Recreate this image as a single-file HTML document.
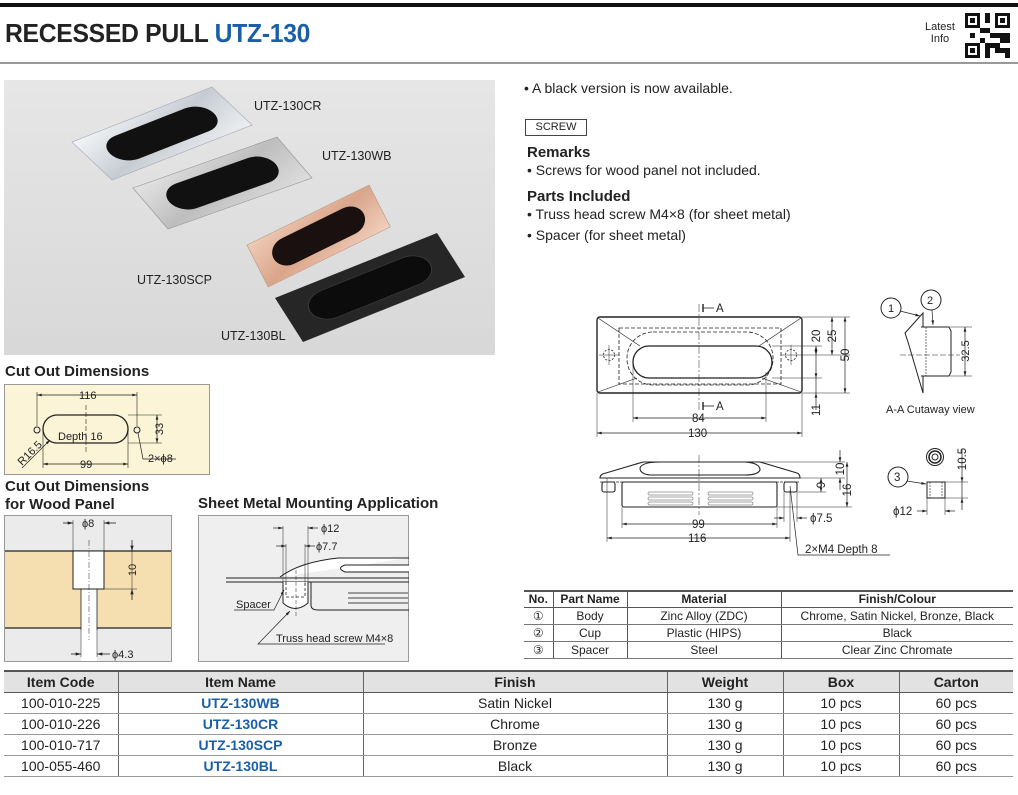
<!DOCTYPE html>
<html><head><meta charset="utf-8"><style>
*{margin:0;padding:0;box-sizing:border-box}
body{width:1018px;height:795px;background:#fff;position:relative;font-family:"Liberation Sans",Arial,sans-serif;color:#222;overflow:hidden}
.a{position:absolute;white-space:nowrap}
.h{font-weight:bold;font-size:15px;color:#222}
table{border-collapse:collapse;position:absolute;font-size:13px}
td,th{text-align:center;padding:0;}
#pt{left:524px;top:590px;width:489px;font-size:12px;border-top:2px solid #555;border-bottom:1.5px solid #555}
#pt th{height:16px;border-bottom:1px solid #555;font-weight:bold}
#pt td{height:17px;border-bottom:1px solid #777}
#pt td,#pt th{border-left:1px solid #555}
#pt tr>*:first-child{border-left:none}
#mt{left:4px;top:670px;width:1009px;font-size:14px;border-top:2px solid #555;border-bottom:1.5px solid #777}
#mt th{height:21px;background:#e2e2e2;border-bottom:1.5px solid #555;font-weight:bold}
#mt td{height:21px;border-bottom:1px solid #999}
#mt td,#mt th{border-left:1px solid #666}
#mt tr>*:first-child{border-left:none}
.b{color:#1a5fa8;font-weight:bold}
</style></head><body>
<div class="a" style="left:0;top:3px;width:1018px;height:4px;background:#111"></div>
<div class="a" style="left:5px;top:18px;font-size:26px;font-weight:bold;letter-spacing:-0.3px;transform:scaleX(0.95);transform-origin:left">RECESSED PULL <span style="color:#1a5fa8">UTZ-130</span></div>
<div class="a" style="left:0;top:62px;width:1018px;height:2px;background:#999"></div>
<div class="a" style="left:925px;top:21px;font-size:11px;text-align:center;line-height:12px">Latest<br>Info</div>
<svg class="a" style="left:965px;top:13px" width="45" height="45" viewBox="0 0 9 9" shape-rendering="crispEdges">
<g fill="#111"><rect x="0" y="0" width="3" height="3"/><rect x="6" y="0" width="3" height="3"/><rect x="0" y="6" width="3" height="3"/>
<rect x="4" y="0" width="1" height="2"/><rect x="3" y="3" width="2" height="1"/><rect x="5" y="4" width="2" height="1"/><rect x="7" y="4" width="2" height="2"/><rect x="4" y="6" width="1" height="3"/><rect x="6" y="7" width="3" height="1"/><rect x="1" y="4" width="1" height="1"/><rect x="5" y="6" width="2" height="1"/><rect x="8" y="8" width="1" height="1"/><rect x="3" y="5" width="1" height="1"/><rect x="6" y="2" width="1" height="1"/></g>
<g fill="#fff"><rect x="0.6" y="0.6" width="1.8" height="1.8"/><rect x="6.6" y="0.6" width="1.8" height="1.8"/><rect x="0.6" y="6.6" width="1.8" height="1.8"/></g>
<g fill="#111"><rect x="1" y="1" width="1" height="1"/><rect x="7" y="1" width="1" height="1"/><rect x="1" y="7" width="1" height="1"/></g></svg>

<svg class="a" style="left:0;top:0" width="1018" height="795">
<defs>
<linearGradient id="bg" x1="0" y1="0" x2="0" y2="1"><stop offset="0" stop-color="#e6e6e6"/><stop offset="1" stop-color="#d8d8d8"/></linearGradient>
<linearGradient id="cr" x1="0" y1="0" x2="1" y2="1"><stop offset="0" stop-color="#f4f6f8"/><stop offset="0.5" stop-color="#c6ccd2"/><stop offset="1" stop-color="#eef0f2"/></linearGradient>
<linearGradient id="wb" x1="0" y1="0" x2="1" y2="1"><stop offset="0" stop-color="#e4e4e4"/><stop offset="0.5" stop-color="#bdbdbd"/><stop offset="1" stop-color="#dedede"/></linearGradient>
<linearGradient id="scp" x1="0" y1="0" x2="1" y2="1"><stop offset="0" stop-color="#f0cbb6"/><stop offset="0.5" stop-color="#d9a58a"/><stop offset="1" stop-color="#f2d0bd"/></linearGradient>
<marker id="ar" viewBox="0 0 10 6" refX="10" refY="3" markerWidth="7" markerHeight="4" orient="auto-start-reverse"><path d="M0,0L10,3L0,6z" fill="#222"/></marker>
</defs>
<rect x="4" y="80" width="491" height="275" fill="url(#bg)"/>
<g transform="matrix(1.4,-0.55,1.0,0.95,72,142)"><rect width="100" height="40" fill="url(#cr)" stroke="#aab" stroke-width="0.5"/><rect x="13" y="8" width="74" height="24" rx="12" fill="#111"/></g>
<g transform="matrix(1.44,-0.51,0.875,1.025,133,188)"><rect width="100" height="40" fill="url(#wb)" stroke="#999" stroke-width="0.5"/><rect x="13" y="8" width="74" height="24" rx="12" fill="#111"/></g>
<g transform="matrix(1.22,-0.6,0.53,1.05,247,245)"><rect width="100" height="40" fill="url(#scp)" stroke="#b98" stroke-width="0.5"/><rect x="13" y="8" width="74" height="24" rx="12" fill="#1a1010"/></g>
<g transform="matrix(1.62,-0.65,0.7,1.1,275,298)"><rect width="100" height="40" fill="#262626"/><rect x="13" y="8" width="74" height="24" rx="12" fill="#0c0c0c" stroke="#3a3a3a" stroke-width="0.6"/></g>
<g font-size="12.5" fill="#222"><text x="254" y="110">UTZ-130CR</text><text x="322" y="160">UTZ-130WB</text><text x="137" y="284">UTZ-130SCP</text><text x="221" y="340">UTZ-130BL</text></g>

<rect x="4.5" y="384.5" width="205" height="90" fill="#fbf4d6" stroke="#999"/>
<g stroke="#222" fill="none" stroke-width="1">
<rect x="43" y="415" width="85" height="28" rx="14" stroke-width="1.3"/>
<circle cx="37" cy="430" r="3"/><circle cx="137" cy="430" r="3"/>
<line x1="86" y1="405" x2="86" y2="452" stroke-dasharray="5,2" stroke-width="0.6"/>
<line x1="37" y1="392" x2="37" y2="426" stroke-width="0.6"/><line x1="137" y1="392" x2="137" y2="426" stroke-width="0.6"/>
<line x1="37" y1="395" x2="137" y2="395" marker-start="url(#ar)" marker-end="url(#ar)" stroke-width="0.7"/>
<line x1="43" y1="430" x2="43" y2="468" stroke-width="0.6"/><line x1="128" y1="430" x2="128" y2="468" stroke-width="0.6"/>
<line x1="43" y1="464" x2="128" y2="464" marker-start="url(#ar)" marker-end="url(#ar)" stroke-width="0.7"/>
<line x1="128" y1="415" x2="162" y2="415" stroke-width="0.6"/><line x1="128" y1="443" x2="162" y2="443" stroke-width="0.6"/>
<line x1="157" y1="415" x2="157" y2="443" marker-start="url(#ar)" marker-end="url(#ar)" stroke-width="0.7"/>
<polyline points="138,433 143,459 176,459" stroke-width="0.7"/>
<line x1="22" y1="468" x2="50" y2="440" stroke-width="0.7" marker-end="url(#ar)"/>
</g>
<g font-size="11" fill="#222"><text x="79" y="399">116</text><text x="80" y="468">99</text><text x="58" y="440">Depth 16</text><text x="148" y="462">2×ϕ8</text>
<text transform="translate(163,429) rotate(-90)" text-anchor="middle">33</text><text transform="translate(22,466) rotate(-45)">R16.5</text></g>

<rect x="4.5" y="515.5" width="167" height="146" fill="#ebebeb" stroke="#999"/>
<rect x="5" y="551" width="166" height="77" fill="#f5deb0"/>
<line x1="5" y1="551" x2="171" y2="551" stroke="#222" stroke-width="1.2"/><line x1="5" y1="628" x2="171" y2="628" stroke="#222" stroke-width="1.2"/>
<rect x="81" y="589" width="16" height="72" fill="#fff"/>
<rect x="73" y="551" width="31" height="38" fill="#fff" stroke="#222"/>
<g stroke="#222" fill="none" stroke-width="0.8"><line x1="81" y1="589" x2="81" y2="630"/><line x1="97" y1="589" x2="97" y2="630"/>
<line x1="81" y1="630" x2="81" y2="657" stroke-width="0.5"/><line x1="97" y1="630" x2="97" y2="657" stroke-width="0.5"/>
<line x1="73" y1="520" x2="73" y2="551" stroke-width="0.5"/><line x1="104" y1="520" x2="104" y2="551" stroke-width="0.5"/>
<line x1="89" y1="540" x2="89" y2="640" stroke-dasharray="6,2,1,2" stroke-width="0.5"/>
<line x1="63" y1="523" x2="73" y2="523" marker-end="url(#ar)"/><line x1="116" y1="523" x2="104" y2="523" marker-end="url(#ar)"/>
<line x1="71" y1="654" x2="81" y2="654" marker-end="url(#ar)"/><line x1="110" y1="654" x2="97" y2="654" marker-end="url(#ar)"/>
<line x1="104" y1="589" x2="137" y2="589" stroke-width="0.5"/>
<line x1="132" y1="540" x2="132" y2="551" marker-end="url(#ar)"/><line x1="132" y1="600" x2="132" y2="589" marker-end="url(#ar)"/><line x1="132" y1="551" x2="132" y2="589" stroke-width="0.5"/>
</g>
<g font-size="11" fill="#222"><text x="82" y="527">ϕ8</text><text x="112" y="658">ϕ4.3</text><text transform="translate(136,570) rotate(-90)" text-anchor="middle">10</text></g>

<rect x="198.5" y="515.5" width="210" height="146" fill="#efefef" stroke="#999"/>
<g stroke="#222" fill="none" stroke-width="1">
<line x1="226" y1="578" x2="409" y2="578"/><line x1="226" y1="582" x2="409" y2="582"/>
<path d="M280,577 Q300,562 338,558 L409,558" fill="#fff"/>
<path d="M409,565 L345,565 Q336,568 345,572 L409,572" fill="#fff"/>
<path d="M311,582 L311,605 Q311,610 318,610 L409,610"/>
<line x1="348" y1="593" x2="409" y2="593" stroke="#999" stroke-width="2"/><line x1="348" y1="598" x2="409" y2="598" stroke="#999" stroke-width="2"/><line x1="348" y1="603" x2="409" y2="603" stroke="#999" stroke-width="2"/>
<path d="M283,582 L283,603 Q295,614 308,603 L308,582" fill="#fff"/>
<path d="M286,582 L286,597 L305,597 L305,582" stroke-dasharray="3,2" stroke-width="0.8"/>
<g stroke-width="0.5"><line x1="283" y1="526" x2="283" y2="585"/><line x1="308" y1="526" x2="308" y2="585"/><line x1="286" y1="544" x2="286" y2="585"/><line x1="305" y1="544" x2="305" y2="585"/><line x1="296" y1="570" x2="296" y2="618" stroke-dasharray="4,2"/></g>
<line x1="273" y1="528" x2="283" y2="528" marker-end="url(#ar)" stroke-width="0.7"/><line x1="318" y1="528" x2="308" y2="528" marker-end="url(#ar)" stroke-width="0.7"/>
<line x1="276" y1="546" x2="286" y2="546" marker-end="url(#ar)" stroke-width="0.7"/><line x1="315" y1="546" x2="305" y2="546" marker-end="url(#ar)" stroke-width="0.7"/>
<polyline points="234,610 274,610 284,590" stroke-width="0.7" marker-end="url(#ar)"/>
<polyline points="385,644 258,644 290,611" stroke-width="0.7" marker-end="url(#ar)"/>
</g>
<g font-size="11" fill="#222"><text x="321" y="532">ϕ12</text><text x="316" y="550">ϕ7.7</text><text x="236" y="608">Spacer</text><text x="276" y="642">Truss head screw M4×8</text></g>

<g stroke="#222" fill="none" stroke-width="1">
<rect x="597" y="317" width="205" height="76" rx="3" stroke-width="1.4"/>
<rect x="619" y="328" width="162" height="56" stroke-dasharray="4,2" stroke-width="0.8"/>
<rect x="627" y="332" width="146" height="53" rx="26" stroke-dasharray="4,2" stroke-width="0.8"/>
<rect x="633" y="346" width="139" height="32" rx="16" stroke-width="1.3"/>
<g stroke-width="0.6"><line x1="598" y1="318" x2="640" y2="346"/><line x1="801" y1="318" x2="759" y2="346"/><line x1="598" y1="392" x2="637" y2="378"/><line x1="801" y1="392" x2="762" y2="378"/></g>
<circle cx="609" cy="355" r="5.5" stroke-dasharray="2,1.5" stroke-width="0.8"/><circle cx="791" cy="355" r="5.5" stroke-dasharray="2,1.5" stroke-width="0.8"/>
<g stroke-width="0.5"><line x1="609" y1="345" x2="609" y2="365"/><line x1="599" y1="355" x2="619" y2="355"/><line x1="791" y1="345" x2="791" y2="365"/><line x1="781" y1="355" x2="850" y2="355"/>
<line x1="699" y1="304" x2="699" y2="410" stroke-dasharray="8,2,2,2"/>
<line x1="633" y1="362" x2="633" y2="422"/><line x1="766" y1="372" x2="766" y2="422"/><line x1="597" y1="393" x2="597" y2="437"/><line x1="802" y1="393" x2="802" y2="437"/>
<line x1="772" y1="346" x2="822" y2="346"/><line x1="772" y1="378" x2="822" y2="378"/><line x1="802" y1="317" x2="850" y2="317"/><line x1="802" y1="393" x2="850" y2="393"/></g>
<line x1="703" y1="308" x2="714" y2="308" stroke-width="0.8"/><line x1="703" y1="304" x2="703" y2="312" stroke-width="1.4"/>
<line x1="703" y1="406" x2="714" y2="406" stroke-width="0.8"/><line x1="703" y1="402" x2="703" y2="410" stroke-width="1.4"/>
<g stroke-width="0.7"><line x1="633" y1="418" x2="766" y2="418" marker-start="url(#ar)" marker-end="url(#ar)"/>
<line x1="597" y1="433" x2="802" y2="433" marker-start="url(#ar)" marker-end="url(#ar)"/>
<line x1="816" y1="346" x2="816" y2="355" marker-start="url(#ar)" marker-end="url(#ar)"/>
<line x1="832" y1="317" x2="832" y2="355" marker-start="url(#ar)" marker-end="url(#ar)"/>
<line x1="845" y1="317" x2="845" y2="393" marker-start="url(#ar)" marker-end="url(#ar)"/>
<line x1="816" y1="355" x2="816" y2="378" marker-end="url(#ar)"/><line x1="816" y1="410" x2="816" y2="393" marker-end="url(#ar)"/><line x1="816" y1="378" x2="816" y2="393"/></g>
</g>
<g font-size="11.5" fill="#222"><text x="716" y="312">A</text><text x="716" y="410">A</text><text x="692" y="422">84</text><text x="688" y="437">130</text>
<text transform="translate(820,336) rotate(-90)" text-anchor="middle">20</text><text transform="translate(836,336) rotate(-90)" text-anchor="middle">25</text><text transform="translate(849,355) rotate(-90)" text-anchor="middle">50</text><text transform="translate(820,410) rotate(-90)" text-anchor="middle">11</text></g>

<g stroke="#222" fill="none" stroke-width="1">
<circle cx="891" cy="308" r="10"/><circle cx="931" cy="300" r="10"/>
<line x1="900" y1="311" x2="920" y2="316" stroke-width="0.7" marker-end="url(#ar)"/><line x1="932" y1="310" x2="933" y2="325" stroke-width="0.7" marker-end="url(#ar)"/>
<path d="M923,313 L905,333 L908,342 L923,393 L923,313 Z" fill="#fff"/>
<path d="M921,327 L949,327 L951,331 L951,372 L949,376 L921,376" fill="#fff"/>
<line x1="926" y1="327" x2="926" y2="376" stroke-dasharray="2,1" stroke-width="0.6"/>
<line x1="900" y1="355" x2="960" y2="355" stroke-dasharray="6,2" stroke-width="0.5"/>
<line x1="950" y1="327" x2="972" y2="327" stroke-width="0.5"/><line x1="950" y1="376" x2="972" y2="376" stroke-width="0.5"/>
<line x1="965" y1="327" x2="965" y2="376" marker-start="url(#ar)" marker-end="url(#ar)" stroke-width="0.7"/>
</g>
<g font-size="11" fill="#222"><text x="888" y="312">1</text><text x="927" y="304">2</text><text transform="translate(969,351) rotate(-90)" text-anchor="middle">32.5</text><text x="886" y="413">A-A Cutaway view</text></g>

<g stroke="#222" fill="none" stroke-width="1.1">
<path d="M600,478 Q600,474 606,473 L643,462 L760,462 L797,473 Q800,474 800,478 Z" fill="#fff"/>
<path d="M640,468 Q642,462 660,462 L745,462 Q760,463 760,470 Q758,475 745,475 L650,475 Q640,474 640,468 Z"/>
<rect x="622" y="482" width="155" height="25" rx="2"/>
<line x1="600" y1="482" x2="800" y2="482" stroke-width="0.8" stroke-dasharray="3,1"/>
<rect x="602" y="482" width="13" height="10" rx="2"/><rect x="784" y="482" width="13" height="10" rx="2"/>
<g stroke="#888" stroke-width="0.7"><rect x="648" y="492" width="45" height="3" rx="1.5"/><rect x="648" y="497" width="45" height="3" rx="1.5"/><rect x="648" y="502" width="45" height="3" rx="1.5"/><rect x="708" y="492" width="45" height="3" rx="1.5"/><rect x="708" y="497" width="45" height="3" rx="1.5"/><rect x="708" y="502" width="45" height="3" rx="1.5"/></g>
<g stroke-width="0.5"><line x1="699" y1="455" x2="699" y2="515" stroke-dasharray="8,2,2,2"/>
<line x1="607" y1="478" x2="607" y2="542"/><line x1="790" y1="490" x2="790" y2="542"/><line x1="622" y1="507" x2="622" y2="528"/><line x1="777" y1="507" x2="777" y2="528"/>
<line x1="784" y1="492" x2="784" y2="522"/><line x1="797" y1="492" x2="797" y2="522"/>
<line x1="760" y1="462" x2="845" y2="462"/><line x1="800" y1="478" x2="845" y2="478"/><line x1="797" y1="492" x2="826" y2="492"/><line x1="777" y1="507" x2="852" y2="507"/></g>
<g stroke-width="0.7"><line x1="622" y1="524" x2="777" y2="524" marker-start="url(#ar)" marker-end="url(#ar)"/>
<line x1="607" y1="538" x2="790" y2="538" marker-start="url(#ar)" marker-end="url(#ar)"/>
<line x1="774" y1="518" x2="784" y2="518" marker-end="url(#ar)"/><line x1="807" y1="518" x2="797" y2="518" marker-end="url(#ar)"/>
<line x1="840" y1="450" x2="840" y2="462" marker-end="url(#ar)"/><line x1="840" y1="490" x2="840" y2="478" marker-end="url(#ar)"/>
<line x1="821" y1="478" x2="821" y2="492" marker-start="url(#ar)" marker-end="url(#ar)"/>
<line x1="847" y1="462" x2="847" y2="507" marker-start="url(#ar)" marker-end="url(#ar)"/>
<polyline points="790,486 798,555 890,555"/></g>
</g>
<g font-size="11.5" fill="#222"><text x="692" y="528">99</text><text x="688" y="542">116</text><text x="810" y="522">ϕ7.5</text><text x="805" y="553">2×M4 Depth 8</text>
<text transform="translate(825,485) rotate(-90)" text-anchor="middle">9</text><text transform="translate(844,469) rotate(-90)" text-anchor="middle">10</text><text transform="translate(851,490) rotate(-90)" text-anchor="middle">16</text></g>

<g stroke="#222" fill="none" stroke-width="1">
<circle cx="935" cy="457" r="8.5"/><circle cx="935" cy="457" r="6" stroke-width="1.5"/><circle cx="935" cy="457" r="3"/>
<circle cx="898" cy="477" r="10"/><line x1="907" y1="481" x2="926" y2="484" stroke-width="0.7" marker-end="url(#ar)"/>
<rect x="927" y="482" width="18" height="16" fill="#fff"/>
<line x1="930" y1="482" x2="930" y2="498" stroke-dasharray="2,1" stroke-width="0.6"/><line x1="942" y1="482" x2="942" y2="498" stroke-dasharray="2,1" stroke-width="0.6"/>
<g stroke-width="0.5"><line x1="945" y1="482" x2="968" y2="482"/><line x1="945" y1="498" x2="968" y2="498"/><line x1="927" y1="498" x2="927" y2="515"/><line x1="945" y1="498" x2="945" y2="515"/></g>
<g stroke-width="0.7"><line x1="962" y1="450" x2="962" y2="482" marker-end="url(#ar)"/><line x1="962" y1="510" x2="962" y2="498" marker-end="url(#ar)"/><line x1="962" y1="482" x2="962" y2="498"/>
<line x1="917" y1="511" x2="927" y2="511" marker-end="url(#ar)"/><line x1="955" y1="511" x2="945" y2="511" marker-end="url(#ar)"/></g>
</g>
<g font-size="11.5" fill="#222"><text x="894" y="481">3</text><text x="893" y="515">ϕ12</text><text transform="translate(966,459) rotate(-90)" text-anchor="middle">10.5</text></g>
</svg>

<div class="a h" style="left:5px;top:363px">Cut Out Dimensions</div>
<div class="a h" style="left:5px;top:478px;line-height:18px">Cut Out Dimensions<br>for Wood Panel</div>
<div class="a h" style="left:198px;top:495px">Sheet Metal Mounting Application</div>

<div class="a" style="left:524px;top:80px;font-size:14px">• A black version is now available.</div>
<div class="a" style="left:525px;top:119px;width:62px;height:17px;border:1px solid #444;font-size:11px;text-align:center;line-height:15px">SCREW</div>
<div class="a h" style="left:527px;top:144px">Remarks</div>
<div class="a" style="left:527px;top:162px;font-size:14px">• Screws for wood panel not included.</div>
<div class="a h" style="left:527px;top:188px">Parts Included</div>
<div class="a" style="left:527px;top:206px;font-size:14px">• Truss head screw M4×8 (for sheet metal)</div>
<div class="a" style="left:527px;top:227px;font-size:14px">• Spacer (for sheet metal)</div>

<table id="pt"><tr><th style="width:29px">No.</th><th style="width:74px">Part Name</th><th style="width:154px">Material</th><th>Finish/Colour</th></tr>
<tr><td>①</td><td>Body</td><td>Zinc Alloy (ZDC)</td><td>Chrome, Satin Nickel, Bronze, Black</td></tr>
<tr><td>②</td><td>Cup</td><td>Plastic (HIPS)</td><td>Black</td></tr>
<tr><td>③</td><td>Spacer</td><td>Steel</td><td>Clear Zinc Chromate</td></tr></table>

<table id="mt"><tr><th style="width:114px">Item Code</th><th style="width:245px">Item Name</th><th style="width:304px">Finish</th><th style="width:116px">Weight</th><th style="width:116px">Box</th><th>Carton</th></tr>
<tr><td>100-010-225</td><td class="b">UTZ-130WB</td><td>Satin Nickel</td><td>130 g</td><td>10 pcs</td><td>60 pcs</td></tr>
<tr><td>100-010-226</td><td class="b">UTZ-130CR</td><td>Chrome</td><td>130 g</td><td>10 pcs</td><td>60 pcs</td></tr>
<tr><td>100-010-717</td><td class="b">UTZ-130SCP</td><td>Bronze</td><td>130 g</td><td>10 pcs</td><td>60 pcs</td></tr>
<tr><td>100-055-460</td><td class="b">UTZ-130BL</td><td>Black</td><td>130 g</td><td>10 pcs</td><td>60 pcs</td></tr></table>
</body></html>
